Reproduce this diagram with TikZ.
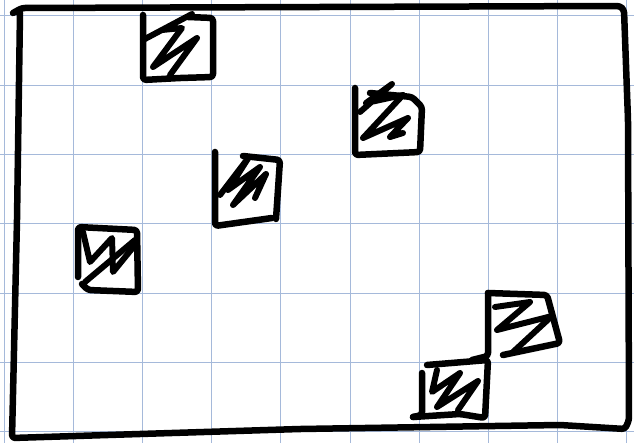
\documentclass[tikz,border=0pt]{standalone}
\begin{document}
\begin{tikzpicture}[x=1pt, y=-1pt,
    gridline/.style={draw={rgb,255:red,165;green,185;blue,218}, line width=1pt},
    pen/.style={line width=6.5pt, line cap=round, line join=round, rounded corners=3pt},
    scrib/.style={line width=6pt, line cap=round, line join=round}]
    \useasboundingbox (0,0) rectangle (634,443);
    % Grid paper
    \foreach \i in {0,...,9}
        \draw[gridline] ({4.5+69.1*\i},0) -- ++(0,443);
    \foreach \j in {0,...,6}
        \draw[gridline] (0,{16+69.3*\j}) -- ++(634,0);
    % Frame
    \draw[pen, line width=6.5pt] (13,13) -- (22,8) -- (620,6) -- (624,10) -- (628,120) -- (629,420) -- (625,429)
        -- (560,425) -- (300,429) -- (12,438) -- (17,220) -- (20,13);
    % Box top
    \draw[pen] (143,15) -- (143,80) -- (180,78) -- (213,77) -- (213,18) -- (188,17);
    \draw[scrib] (143,40) -- (192,14) -- (162,30) -- (182,28) -- (153,67) -- (197,38) -- (170,75);
    % Box middle
    \draw[pen] (215,152) -- (215,226) -- (272,218);
    \draw[pen] (243,156) -- (280,160) -- (276,219);
    \draw[scrib] (220,195) -- (249,157) -- (228,190) -- (260,167) -- (233,205) -- (266,174) -- (255,198);
    % Box upper right
    \draw[pen] (355,88) -- (355,155) -- (420,152) -- (422,107) -- (412,97) -- (370,93);
    \draw[scrib] (360,112) -- (392,84) -- (366,103) -- (403,95) -- (363,138) -- (408,118) -- (390,137) -- (403,133);
    % Box left
    \draw[pen] (78,277) -- (78,227) -- (137,230) -- (138,292) -- (88,290) -- (82,284);
    \draw[scrib] (83,232) -- (90,262) -- (112,238) -- (113,272) -- (135,245);
    \draw[scrib] (85,282) -- (135,240);
    % Box lower right
    \draw[pen] (488,293) -- (488,356) -- (472,360);
    \draw[pen] (488,293) -- (547,295) -- (560,343) -- (503,355);
    \draw[scrib] (495,307) -- (530,302) -- (497,330) -- (552,316) -- (513,352);
    % Box bottom
    \draw[pen] (422,373) -- (422,415) -- (413,417);
    \draw[pen] (427,365) -- (488,360) -- (485,418) -- (460,414) -- (413,417);
    \draw[scrib] (437,370) -- (432,392) -- (460,373) -- (437,407) -- (478,381) -- (458,410);
\end{tikzpicture}
\end{document}
